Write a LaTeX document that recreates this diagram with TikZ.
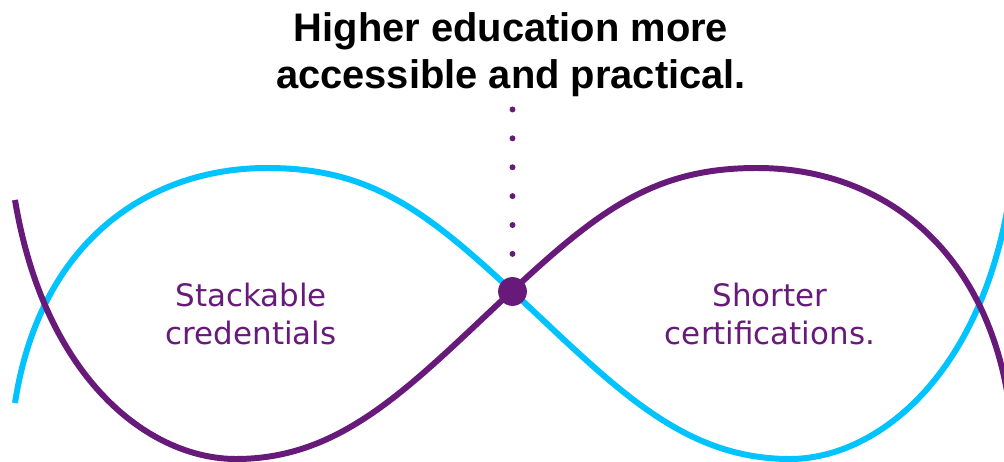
\documentclass[tikz,border=0pt]{standalone}
\usepackage{fontspec}
\usepackage{tikz}
\usepackage{xcolor}
\setmainfont{Liberation Sans}
\newfontfamily\labelfont{DejaVu Sans}

\definecolor{wavepurple}{RGB}{103,26,122}
\definecolor{wavecyan}{RGB}{0,195,255}

\begin{document}
\begin{tikzpicture}[x=0.02cm,y=-0.02cm,
  wave/.style={line width=3.4pt},
  hub/.style={circle,fill=wavepurple,inner sep=0pt,minimum size=16.4pt},
  dotlink/.style={wavepurple,line width=3.4pt,line cap=round,dash pattern=on 0pt off 16.44pt,shorten <=13pt},
  headline/.style={align=center,font=\bfseries\fontsize{22.7}{26.6}\selectfont},
  wavelabel/.style={align=center,text=wavepurple,font=\labelfont\fontsize{17.6}{22.1}\selectfont}]
\useasboundingbox (0,0) rectangle (1004,462);

\draw[wave, wavecyan] (15,403) .. controls (40,240) and (150,168) .. (267,168)
  .. controls (367,168) and (422,207) .. (512,291)
  .. controls (612,384) and (680,459) .. (790,459)
  .. controls (874,459) and (979,380) .. (1009,200);

\draw[wave, wavepurple] (15,200) .. controls (45,380) and (150,459) .. (236,459)
  .. controls (344,459) and (412,384) .. (512,291)
  .. controls (602,207) and (657,168) .. (757,168)
  .. controls (874,168) and (984,240) .. (1009,403);

\node[hub] (hub) at (512.5,291.5) {};
\coordinate (dots top) at (512.5,106);
\draw[dotlink] (hub) -- (dots top);

\node[headline] (goal) at (511,55) {Higher education more\\accessible and practical.};
\node[wavelabel] (stack) at (251,314) {Stackable\\credentials};
\node[wavelabel] (short) at (770,314) {Shorter\\certifications.};

\end{tikzpicture}
\end{document}
